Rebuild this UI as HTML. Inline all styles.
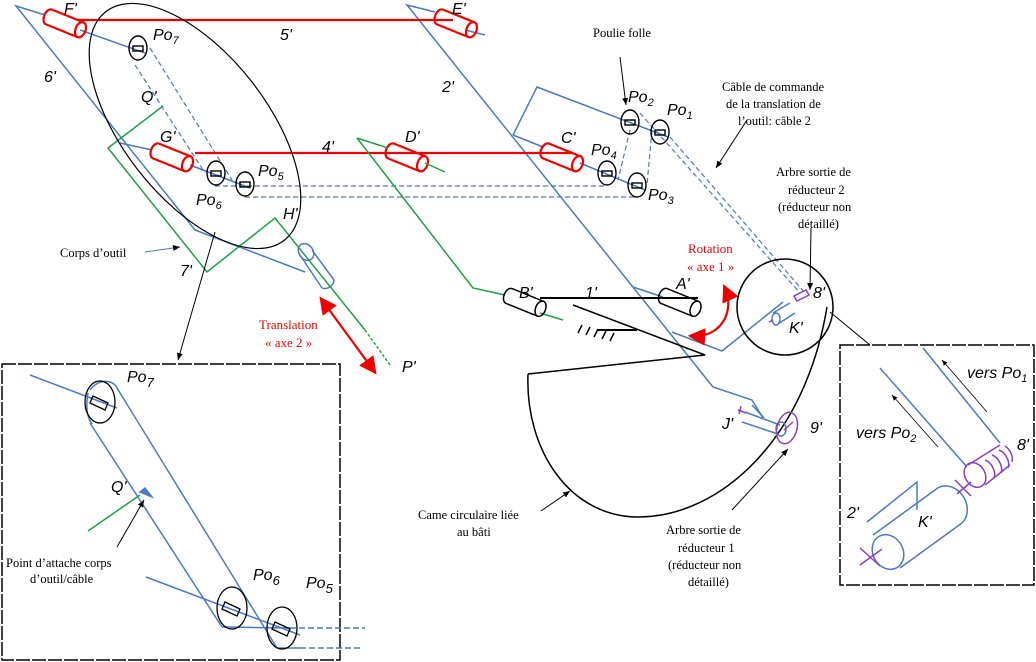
<!DOCTYPE html>
<html><head><meta charset="utf-8"><style>
body{margin:0;background:#fff;}
svg{display:block;}
.l{font-family:"Liberation Sans",sans-serif;font-style:italic;font-size:16px;fill:#000;}
.s{font-family:"Liberation Serif",serif;font-size:12.5px;fill:#000;}
.r{font-family:"Liberation Serif",serif;font-size:13px;fill:#e00;}
</style></head><body>
<svg width="1036" height="662" viewBox="0 0 1036 662" xmlns="http://www.w3.org/2000/svg">
<defs>
<marker id="ab" markerWidth="8" markerHeight="8" refX="7" refY="4" orient="auto"><path d="M0,1 L7,4 L0,7z" fill="#000"/></marker>
<marker id="ar" markerWidth="8" markerHeight="8" refX="6" refY="4" orient="auto"><path d="M0,0 L8,4 L0,8z" fill="#e00"/></marker>
<marker id="ars" markerWidth="8" markerHeight="8" refX="2" refY="4" orient="auto"><path d="M8,0 L0,4 L8,8z" fill="#e00"/></marker>
<g id="cyl"><path d="M0,-8 L34,-8 M0,8 L34,8 M0,-8 A5,8 0 0 0 0,8"/><ellipse cx="34" cy="0" rx="5" ry="8"/></g>
</defs>
<g fill="none" stroke-width="1.5">
<!-- blue frames -->
<g stroke="#4a7ac0">
<polyline points="45,15 16,6 195,230 305,272"/>
<line x1="80" y1="30" x2="145" y2="53"/>
<line x1="190" y1="165" x2="250" y2="188"/>
<line x1="120" y1="143" x2="152" y2="150"/>
<polyline points="435,12 407,5 713,387 752,400 763,418"/>
<line x1="465" y1="30" x2="485" y2="35"/>
<polyline points="513,135 537,87 668,137"/>
<line x1="513" y1="135" x2="543" y2="147"/>
<line x1="580" y1="163" x2="645" y2="190"/>
<polyline points="672,332 722,351 783,302"/>
<line x1="633" y1="287" x2="663" y2="297"/>
<path d="M300,255 L322,288 M312,250 L334,280" />
<ellipse cx="306" cy="252" rx="7" ry="9" transform="rotate(-35 306 252)"/>
<path d="M322,288 a8,6 -35 0 0 12,-8"/>
</g>
<g stroke="#4a7ac0" stroke-dasharray="5,3" stroke-width="1.2">
<line x1="215" y1="186" x2="605" y2="186"/>
<line x1="245" y1="197" x2="637" y2="197"/>
<line x1="135" y1="65" x2="205" y2="173"/>
<line x1="150" y1="48" x2="232" y2="180"/>
<line x1="630" y1="130" x2="618" y2="180"/>
<line x1="652" y1="130" x2="647" y2="185"/>
<line x1="640" y1="113" x2="800" y2="293"/>
<line x1="670" y1="137" x2="805" y2="293"/>
</g>
<!-- red -->
<g stroke="#e00" stroke-width="2.2">
<line x1="78" y1="20" x2="453" y2="20"/>
<line x1="195" y1="153" x2="573" y2="153"/>
<use href="#cyl" transform="translate(49,17) rotate(22)"/>
<use href="#cyl" transform="translate(440,17) rotate(22)"/>
<use href="#cyl" transform="translate(156,151) rotate(22)"/>
<use href="#cyl" transform="translate(391,151) rotate(22)"/>
<use href="#cyl" transform="translate(546,151) rotate(22)"/>
<line x1="322" y1="300" x2="374" y2="371" marker-end="url(#ar)" marker-start="url(#ars)"/>
<path d="M725,288 C735,310 722,338 692,336" marker-end="url(#ar)" marker-start="url(#ars)"/>
</g>
<!-- green -->
<g stroke="#1fa040">
<polyline points="163,106 108,148 207,272 275,218 365,330"/>
<line x1="365" y1="330" x2="390" y2="365" stroke-dasharray="3,2"/>
<polyline points="357,138 388,148"/>
<polyline points="357,138 473,288 505,295"/>
<line x1="425" y1="163" x2="445" y2="172"/>
<line x1="540" y1="313" x2="563" y2="320"/>
</g>
<!-- black -->
<g stroke="#000">
<ellipse cx="195" cy="126" rx="145" ry="72" transform="rotate(52 195 126)" stroke-width="1.2"/>
<line x1="215" y1="232" x2="178" y2="360" stroke-width="1" marker-end="url(#ab)"/>
<line x1="540" y1="298" x2="698" y2="298" stroke-width="2"/>
<use href="#cyl" transform="translate(509,296) rotate(22)"/>
<use href="#cyl" transform="translate(664,296) rotate(22)"/>
<polyline points="573,305 705,355 528,374"/>
<path d="M528,374 C525,450 570,518 640,517 C720,516 805,440 827,307"/>
<line x1="597" y1="330" x2="637" y2="330" stroke-width="2"/>
<path d="M582,325 l-4,8 M590,327 l-4,8 M598,329 l-4,8 M606,331 l-4,8 M614,333 l-4,8"/>
<circle cx="785" cy="307" r="48"/>
<line x1="830" y1="312" x2="870" y2="345" stroke-width="1"/>
<line x1="747" y1="120" x2="716" y2="168" stroke-width="1" marker-end="url(#ab)"/>
<line x1="620" y1="57" x2="626" y2="105" stroke-width="1" marker-end="url(#ab)"/>
<line x1="811" y1="228" x2="810" y2="290" stroke-width="1" marker-end="url(#ab)"/>
<line x1="541" y1="511" x2="570" y2="491" stroke-width="1" marker-end="url(#ab)"/>
<line x1="732" y1="510" x2="788" y2="449" stroke-width="1" marker-end="url(#ab)"/>
<rect x="2" y="364" width="338" height="296" stroke-dasharray="14,2" stroke-width="1.5"/>
<rect x="840" y="345" width="194" height="240" stroke-dasharray="14,2" stroke-width="1.5"/>
</g>
<line x1="145" y1="252" x2="180" y2="247" stroke="#4a7ac0" stroke-width="1" marker-end="url(#ab)"/>
<!-- pulleys -->
<g stroke="#000" stroke-width="1.4">
<ellipse cx="138" cy="48" rx="9" ry="12"/><rect x="133" y="46" width="10" height="5"/>
<ellipse cx="216" cy="173" rx="9" ry="12"/><rect x="211" y="171" width="10" height="5"/>
<ellipse cx="245" cy="184" rx="9" ry="12"/><rect x="240" y="182" width="10" height="5"/>
<ellipse cx="630" cy="122" rx="9" ry="12"/><rect x="625" y="120" width="10" height="5"/>
<ellipse cx="660" cy="132" rx="9" ry="12"/><rect x="655" y="130" width="10" height="5"/>
<ellipse cx="607" cy="173" rx="9" ry="12"/><rect x="602" y="171" width="10" height="5"/>
<ellipse cx="637" cy="185" rx="9" ry="12"/><rect x="632" y="183" width="10" height="5"/>
</g>
<!-- K', J', 9', 8' -->
<g stroke="#4a7ac0"><path d="M773,313 L790,303 M778,324 L795,313"/><ellipse cx="776" cy="319" rx="4" ry="6"/>
<path d="M745,412 L780,425 M742,422 L778,434"/><ellipse cx="781" cy="429" rx="5" ry="7"/><path d="M752,405 L764,418"/></g>
<g stroke="#8a3fc0"><ellipse cx="787" cy="428" rx="10" ry="16" transform="rotate(15 787 428)"/><path d="M738,410 l8,3 M741,406 l-2,8 M784,430 l9,-8"/>
<path d="M794,296 l12,-6 l3,5 l-12,6z"/><path d="M773,320 l-4,2"/></g>
<!-- left inset -->
<g stroke="#4a7ac0">
<line x1="30" y1="375" x2="117" y2="408"/>
<line x1="90" y1="423" x2="222" y2="627"/>
<line x1="117" y1="388" x2="277" y2="648"/>
<path d="M88,393 C85,410 88,418 92,424"/>
<path d="M90,390 C100,377 115,380 118,390"/>
<line x1="222" y1="627" x2="290" y2="628"/>
<line x1="290" y1="628" x2="365" y2="628" stroke-dasharray="6,3"/>
<line x1="277" y1="648" x2="300" y2="648"/>
<line x1="300" y1="648" x2="360" y2="648" stroke-dasharray="6,3"/>
<line x1="146" y1="577" x2="300" y2="635"/>
<path d="M140,492 L152,497 L145,488z" fill="#4a7ac0"/>
</g>
<line x1="88" y1="531" x2="140" y2="495" stroke="#1fa040"/>
<g stroke="#000" stroke-width="1.3">
<ellipse cx="100" cy="402" rx="15" ry="21"/><path d="M93,396 L108,403 L105,410 L90,403z"/>
<ellipse cx="232" cy="608" rx="15" ry="21"/><path d="M225,602 L240,609 L237,616 L222,609z"/>
<ellipse cx="282" cy="628" rx="15" ry="21"/><path d="M275,622 L290,629 L287,636 L272,629z"/>
<line x1="117" y1="547" x2="144" y2="500" stroke-width="1" marker-end="url(#ab)"/>
</g>
<!-- right inset -->
<g stroke="#4a7ac0">
<line x1="923" y1="348" x2="1000" y2="443"/>
<line x1="880" y1="368" x2="967" y2="467"/>
<path d="M873,535 L935,490 M900,568 L962,523"/>
<ellipse cx="888" cy="552" rx="15" ry="18" transform="rotate(-30 888 552)"/>
<path d="M935,490 a15,18 -30 0 1 27,33"/>
<polyline points="867,522 917,482 917,510"/>
</g>
<g stroke="#8a3fc0">
<ellipse cx="975" cy="475" rx="10" ry="13" transform="rotate(-30 975 475)"/>
<path d="M968,465 L1000,445 M985,485 L1010,465"/>
<path d="M985,460 a8,12 -30 0 1 9,18 M992,455 a8,12 -30 0 1 9,18 M999,450 a8,12 -30 0 1 9,18 M1005,446 a8,12 -30 0 1 7,16"/>
<path d="M955,480 l16,16 M957,494 l14,-12 M860,548 l20,18 M860,565 l22,-16"/>
</g>
<g stroke="#000" stroke-width="0.8">
<line x1="987" y1="412" x2="942" y2="360" marker-end="url(#ab)"/>
<line x1="938" y1="447" x2="892" y2="395" marker-end="url(#ab)"/>
</g>
</g>
<!-- labels -->
<text class="l" x="64" y="14">F'</text>
<text class="l" x="452" y="14">E'</text>
<text class="l" x="280" y="40">5'</text>
<text class="l" x="44" y="82">6'</text>
<text class="l" x="442" y="92">2'</text>
<text class="l" x="153" y="40">Po<tspan font-size="11" dy="4">7</tspan></text>
<text class="l" x="141" y="102">Q'</text>
<text class="l" x="160" y="142">G'</text>
<text class="l" x="322" y="152">4'</text>
<text class="l" x="405" y="142">D'</text>
<text class="l" x="561" y="143">C'</text>
<text class="l" x="258" y="176">Po<tspan font-size="11" dy="4">5</tspan></text>
<text class="l" x="196" y="205">Po<tspan font-size="11" dy="4">6</tspan></text>
<text class="l" x="283" y="219">H'</text>
<text class="l" x="180" y="276">7'</text>
<text class="l" x="628" y="102">Po<tspan font-size="11" dy="4">2</tspan></text>
<text class="l" x="667" y="115">Po<tspan font-size="11" dy="4">1</tspan></text>
<text class="l" x="591" y="155">Po<tspan font-size="11" dy="4">4</tspan></text>
<text class="l" x="648" y="200">Po<tspan font-size="11" dy="4">3</tspan></text>
<text class="l" x="519" y="298">B'</text>
<text class="l" x="585" y="298">1'</text>
<text class="l" x="676" y="289">A'</text>
<text class="l" x="813" y="298">8'</text>
<text class="l" x="789" y="333">K'</text>
<text class="l" x="722" y="429">J'</text>
<text class="l" x="810" y="433">9'</text>
<text class="l" x="402" y="372">P'</text>
<text class="s" x="593" y="37">Poulie folle</text>
<text class="s" x="722" y="91">Câble de commande</text>
<text class="s" x="726" y="108">de la translation de</text>
<text class="s" x="738" y="125">l’outil: câble 2</text>
<text class="s" x="776" y="176">Arbre  sortie de</text>
<text class="s" x="788" y="194">réducteur 2</text>
<text class="s" x="778" y="211">(réducteur non</text>
<text class="s" x="798" y="228">détaillé)</text>
<text class="r" x="688" y="253">Rotation</text>
<text class="r" x="687" y="271">« axe 1 »</text>
<text class="r" x="259" y="329">Translation</text>
<text class="r" x="265" y="347">« axe 2 »</text>
<text class="s" x="60" y="257">Corps d’outil</text>
<text class="s" x="418" y="519">Came circulaire liée</text>
<text class="s" x="457" y="536">au bâti</text>
<text class="s" x="666" y="534">Arbre  sortie de</text>
<text class="s" x="678" y="552">réducteur 1</text>
<text class="s" x="668" y="569">(réducteur non</text>
<text class="s" x="688" y="586">détaillé)</text>
<text class="l" x="127" y="382" font-size="19">Po<tspan font-size="13" dy="5">7</tspan></text>
<text class="l" x="111" y="492" font-size="18">Q'</text>
<text class="s" x="6" y="567">Point d’attache corps</text>
<text class="s" x="30" y="583">d’outil/câble</text>
<text class="l" x="253" y="580" font-size="19">Po<tspan font-size="13" dy="5">6</tspan></text>
<text class="l" x="306" y="588" font-size="19">Po<tspan font-size="13" dy="5">5</tspan></text>
<text class="l" x="967" y="378" font-size="15">vers Po<tspan font-size="11" dy="4">1</tspan></text>
<text class="l" x="856" y="438" font-size="15">vers Po<tspan font-size="11" dy="4">2</tspan></text>
<text class="l" x="1017" y="450" font-size="14">8'</text>
<text class="l" x="847" y="518" font-size="14">2'</text>
<text class="l" x="918" y="527" font-size="15">K'</text>
</svg>
</body></html>
